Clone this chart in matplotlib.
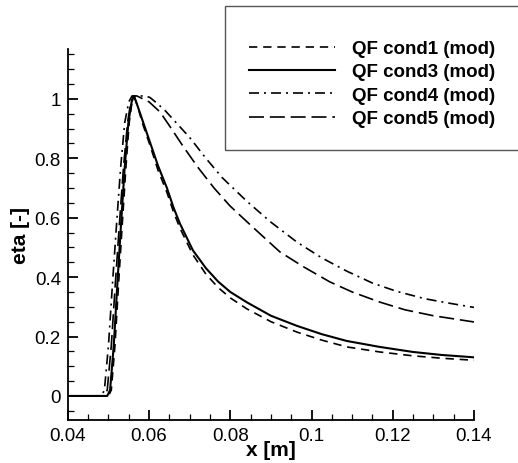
import numpy as np
import matplotlib
matplotlib.use("Agg")
import matplotlib.pyplot as plt
from matplotlib.patches import Rectangle
from matplotlib.ticker import MultipleLocator

plt.rcParams['font.family'] = ['Liberation Sans', 'DejaVu Sans']

# QF cond1 (mod)
x1 = [0.040, 0.0500, 0.0507, 0.0516, 0.0525, 0.0534, 0.0543, 0.0551, 0.0558, 0.0564,
      0.0573, 0.0582, 0.0602, 0.0622, 0.0644, 0.0660, 0.0676, 0.0708, 0.0740, 0.0770,
      0.0800, 0.0841, 0.0900, 0.0964, 0.1025, 0.1087, 0.1168, 0.1250, 0.1320, 0.1400]
y1 = [0, 0, 0.02, 0.17, 0.38, 0.58, 0.77, 0.92, 0.99, 1.005,
      0.97, 0.925, 0.845, 0.76, 0.685, 0.62, 0.565, 0.475, 0.41, 0.365,
      0.33, 0.293, 0.25, 0.215, 0.188, 0.165, 0.148, 0.135, 0.127, 0.12]

# QF cond3 (mod)
x3 = [0.040, 0.0497, 0.0504, 0.0513, 0.0522, 0.0531, 0.0540, 0.0549, 0.0557, 0.0563,
      0.0572, 0.0582, 0.0602, 0.0622, 0.0644, 0.0660, 0.0676, 0.0708, 0.0740, 0.0770,
      0.0800, 0.0841, 0.0900, 0.0964, 0.1025, 0.1087, 0.1168, 0.1250, 0.1320, 0.1400]
y3 = [0, 0, 0.02, 0.17, 0.38, 0.58, 0.77, 0.92, 0.99, 1.01,
      0.975, 0.935, 0.855, 0.775, 0.70, 0.635, 0.58, 0.49, 0.43, 0.385,
      0.35, 0.315, 0.27, 0.236, 0.208, 0.185, 0.165, 0.148, 0.138, 0.13]

# QF cond4 (mod)
x4 = [0.040, 0.0483, 0.0490, 0.0500, 0.0510, 0.0520, 0.0530, 0.0540, 0.0550, 0.0558,
      0.0570, 0.0590, 0.0602, 0.0620, 0.0640, 0.0670, 0.0700, 0.0740, 0.0780, 0.0841,
      0.0900, 0.0964, 0.1025, 0.1087, 0.1150, 0.1210, 0.1280, 0.1340, 0.1400]
y4 = [0, 0, 0.02, 0.17, 0.38, 0.58, 0.77, 0.92, 0.99, 1.01,
      1.01, 1.01, 1.005, 0.985, 0.96, 0.915, 0.87, 0.80, 0.735, 0.655,
      0.585, 0.518, 0.465, 0.42, 0.38, 0.352, 0.327, 0.312, 0.298]

# QF cond5 (mod)
x5 = [0.040, 0.0490, 0.0497, 0.0507, 0.0517, 0.0527, 0.0537, 0.0547, 0.0555, 0.0562,
      0.0570, 0.0585, 0.0600, 0.0627, 0.0650, 0.0683, 0.0720, 0.0760, 0.0799, 0.0850,
      0.0922, 0.0980, 0.1045, 0.1100, 0.1168, 0.1230, 0.1300, 0.1400]
y5 = [0, 0, 0.02, 0.17, 0.38, 0.58, 0.77, 0.92, 0.99, 1.01,
      1.01, 1.0, 0.99, 0.956, 0.91, 0.842, 0.77, 0.70, 0.64, 0.575,
      0.485, 0.435, 0.384, 0.35, 0.316, 0.29, 0.27, 0.249]

labels = ['QF cond1 (mod)', 'QF cond3 (mod)', 'QF cond4 (mod)', 'QF cond5 (mod)']

fig = plt.figure(figsize=(5.18, 4.64), dpi=100)
ax = fig.add_axes([0.131, 0.0927, 0.784, 0.7995])

lw = 1.2
ax.plot(x1, y1, color='k', lw=lw, linestyle=(0, (5, 3.5)), label=labels[0])
ax.plot(x3, y3, color='k', lw=1.5, linestyle='-', label=labels[1])
ax.plot(x4, y4, color='k', lw=lw, linestyle=(0, (6, 3, 1.2, 3)), label=labels[2])
ax.plot(x5, y5, color='k', lw=lw, linestyle=(0, (9, 3.5)), label=labels[3])

ax.set_xlim(0.04, 0.14)
ax.set_ylim(-0.081, 1.168)
ax.xaxis.set_minor_locator(MultipleLocator(0.005))
ax.yaxis.set_minor_locator(MultipleLocator(0.05))
ax.set_xticks([0.04, 0.06, 0.08, 0.1, 0.12, 0.14])
ax.set_xticklabels(['0.04', '0.06', '0.08', '0.1', '0.12', '0.14'])
ax.set_yticks([0, 0.2, 0.4, 0.6, 0.8, 1])
ax.set_yticklabels(['0', '0.2', '0.4', '0.6', '0.8', '1'])

ax.spines['top'].set_visible(False)
ax.spines['right'].set_visible(False)
ax.spines['left'].set_linewidth(1.3)
ax.spines['bottom'].set_linewidth(1.3)
ax.tick_params(which='major', direction='in', length=7, width=1.3, labelsize=13.5, pad=5)
ax.tick_params(which='minor', direction='in', length=4, width=0.9)

ax.set_xlabel('x [m]', fontsize=15, fontweight='bold', labelpad=-3)
ax.set_ylabel('eta [-]', fontsize=15, fontweight='bold', labelpad=3)

# legend frame drawn separately (bigger than its contents)
fig.patches.append(Rectangle((225 / 518, 1 - 151 / 464), 0.6, 144 / 464,
                             transform=fig.transFigure, fill=False,
                             edgecolor='#555555', lw=1.0))
leg = fig.legend(loc='upper left', bbox_to_anchor=(249 / 518, 1 - 41 / 464),
                 frameon=False, prop={'weight': 'bold', 'size': 13.5},
                 handlelength=4.6, handletextpad=0.9, labelspacing=0.33, borderpad=0,
                 borderaxespad=0)

plt.savefig('out.png', dpi=100)
